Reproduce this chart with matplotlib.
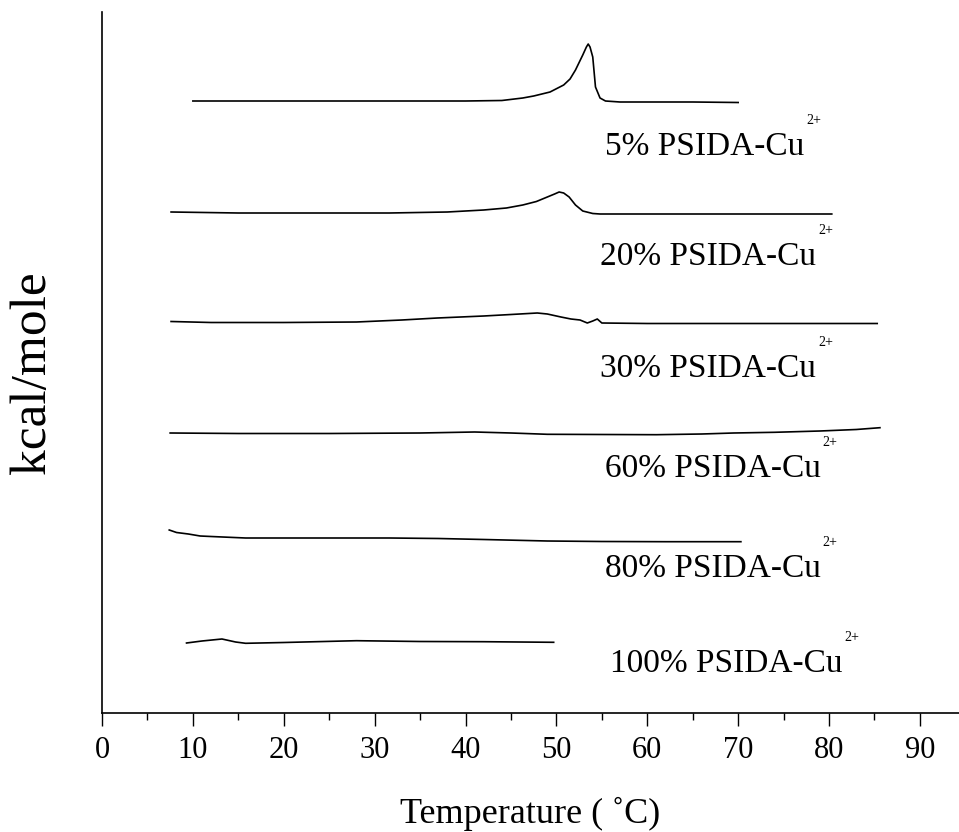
import matplotlib
matplotlib.use("Agg")
import matplotlib.pyplot as plt
from matplotlib.ticker import MultipleLocator

plt.rcParams["font.family"] = ["Liberation Serif", "DejaVu Serif"]

# DSC traces (temperature in C, signal in arbitrary stacked units)
t_5 = [10, 20, 30, 40, 44, 46.3, 47.5, 49.3, 50.8, 51.5, 52.1, 52.9, 53.3,
       53.5, 53.7, 54.0, 54.3, 54.8, 55.4, 57, 60, 65, 70]
y_5 = [612, 612, 612, 612, 612.5, 615, 617, 621, 628, 634, 643, 658, 666,
       669, 666, 656, 626, 615, 612, 611, 611, 611, 610.5]

t_20 = [7.6, 15, 25, 31.6, 38, 42, 44.5, 46.3, 47.8, 49, 49.8, 50.3, 50.8,
        51.4, 52.1, 52.9, 54, 54.8, 60, 70, 80.3]
y_20 = [501, 500, 500, 500, 501, 503, 505, 508, 511.5, 516, 519, 521, 520,
        516, 508, 502, 499.5, 499, 499, 499, 499]

t_30 = [7.6, 12, 20, 28, 33, 36.9, 42, 45, 47.9, 49, 50.5, 51.6, 52.6, 53.4,
        54.0, 54.5, 55.0, 60, 70, 85.3]
y_30 = [391.5, 390.5, 390.5, 391, 393, 395, 397, 398.5, 400, 399, 396, 394,
        393, 390, 392, 394, 390, 389.5, 389.5, 389.5]

t_60 = [7.5, 15, 25, 35, 41, 45, 49, 55, 61, 66, 69.5, 74, 79, 83, 85.6]
y_60 = [280, 279.5, 279.5, 280, 281, 280, 278.7, 278.5, 278.3, 279, 280,
        280.7, 282, 283.5, 285.3]

t_80 = [7.4, 8.2, 9.5, 10.8, 12, 15.8, 25, 31.6, 37, 42, 49, 55, 62, 70.3]
y_80 = [183, 180.5, 179, 177, 176.5, 175, 175, 175, 174.5, 173.5, 172,
        171.5, 171.3, 171.3]

t_100 = [9.3, 11, 13.2, 14.7, 15.8, 20, 28, 35, 42, 49.7]
y_100 = [70, 72, 74, 71, 69.7, 70.5, 72.3, 71.5, 71.3, 70.7]

curves = [(t_5, y_5), (t_20, y_20), (t_30, y_30),
          (t_60, y_60), (t_80, y_80), (t_100, y_100)]

sample_names = ["5% PSIDA-Cu", "20% PSIDA-Cu", "30% PSIDA-Cu",
                "60% PSIDA-Cu", "80% PSIDA-Cu", "100% PSIDA-Cu"]
label_x = [55.4, 54.8, 54.8, 55.3, 55.3, 55.9]
label_y = [558, 448, 336, 236, 136, 41]

fig = plt.figure(figsize=(9.59, 8.32), dpi=100)
ax = fig.add_axes([102 / 959, 119 / 832, 857 / 959, 701 / 832])

for t, y in curves:
    ax.plot(t, y, color="black", linewidth=1.2)

for name, lx, ly in zip(sample_names, label_x, label_y):
    txt = ax.text(lx, ly, name, fontsize=24, ha="left", va="baseline")
    ax.annotate("2+", xy=(1, ly), xycoords=(txt, "data"),
                xytext=(2, 31), textcoords="offset pixels",
                fontsize=10, ha="left", va="baseline")

ax.set_xlim(0, 94.3)
ax.set_ylim(0, 701)

ax.spines["top"].set_visible(False)
ax.spines["right"].set_visible(False)
ax.spines["left"].set_linewidth(1.2)
ax.spines["bottom"].set_linewidth(1.2)

ax.xaxis.set_major_locator(MultipleLocator(10))
ax.xaxis.set_minor_locator(MultipleLocator(5))
ax.tick_params(axis="x", which="major", direction="out", length=9.5,
               width=1.0, labelsize=22, pad=7)
ax.tick_params(axis="x", which="minor", direction="out", length=5, width=1.0)
ax.set_yticks([])

ax.set_xlabel("Temperature ( \u02daC)", fontsize=26)
ax.xaxis.set_label_coords(0.5, -0.12)
ax.set_ylabel("kcal/mole", fontsize=37)
ax.yaxis.set_label_coords(-0.054, 0.486)

fig.savefig("out.png", dpi=100)
